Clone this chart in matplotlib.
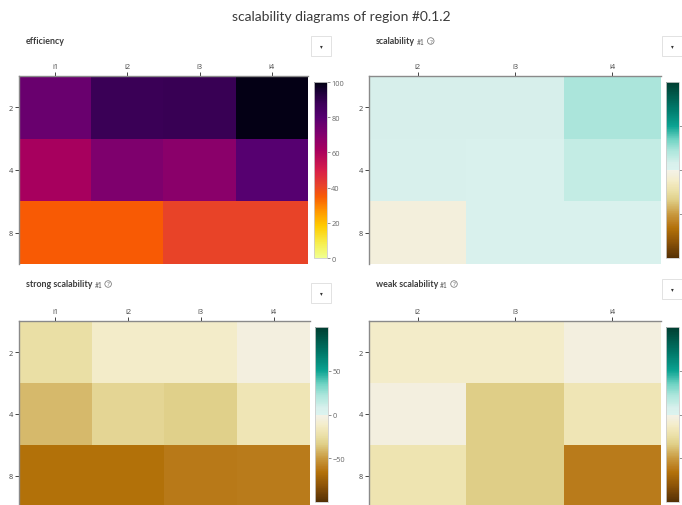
import numpy as np
import matplotlib
matplotlib.use("Agg")
import matplotlib.pyplot as plt
from matplotlib.colors import LinearSegmentedColormap, Normalize
from matplotlib.patches import Rectangle

plt.rcParams['font.family'] = ['Open Sans', 'DejaVu Sans']

title = "scalability diagrams of region #0.1.2"
rows = ["2", "4", "8"]
cols_all = ["i1", "i2", "i3", "i4"]
cols_scal = ["i2", "i3", "i4"]

efficiency = [[76, 88, 88.5, 99],
              [61, 71, 68, 80],
              [35, 35, 41, 41]]
scalability = [[8, 8, 22],
               [6, 5, 14],
               [-5, 5, 4]]
strong_scalability = [[-25, -12, -12, -4],
                      [-40, -30, -33, -18],
                      [-66, -66, -62, -61]]
weak_scalability = [[-12, -12, -4],
                     [-4, -34, -18],
                     [-20, -34, -61]]

W, H = 682, 506
TICK_COLOR = "#444444"
LINE_COLOR = "#8a8a8a"

eff_cmap = LinearSegmentedColormap.from_list("eff", [
    (0.00, "#f0ff90"), (0.08, "#f6ef50"), (0.18, "#ffcc00"),
    (0.27, "#ff9400"), (0.35, "#f85a05"), (0.41, "#e8432a"),
    (0.50, "#d71e4a"), (0.61, "#a8005e"), (0.68, "#8c006a"),
    (0.71, "#7e006e"), (0.76, "#6a006e"), (0.80, "#560070"),
    (0.88, "#3c0058"), (0.95, "#1a0035"), (1.00, "#000010")])

def frac(v):
    return (v + 100) / 200.0

div_cmap = LinearSegmentedColormap.from_list("div", [
    (frac(-100), "#543005"), (frac(-82), "#8c5308"), (frac(-66), "#b3720a"),
    (frac(-62), "#b97a1a"), (frac(-50), "#c99a40"), (frac(-34), "#e0cf88"),
    (frac(-25), "#eadfa5"), (frac(-18), "#f0e6b7"), (frac(-12), "#f4edca"),
    (frac(-4), "#f3f0e0"), (0.499, "#f5f2e6"), (0.501, "#dbf3ef"),
    (frac(8), "#d8f0ec"), (frac(14), "#c2ece4"), (frac(22), "#ade6dc"),
    (frac(35), "#6fd3c3"), (frac(50), "#0ca392"), (frac(70), "#00796a"),
    (frac(100), "#003d30")])


def px_axes(fig, x0, y0, x1, y1):
    return fig.add_axes([x0 / W, 1 - y1 / H, (x1 - x0) / W, (y1 - y0) / H])


def draw_panel(fig, values, cols, cmap, vmin, vmax, cbar_ticks, box, cbox):
    ax = px_axes(fig, *box)
    im = ax.imshow(np.array(values, dtype=float), cmap=cmap,
                   norm=Normalize(vmin, vmax), aspect="auto",
                   interpolation="nearest")
    ax.set_xticks(range(len(cols)))
    ax.set_xticklabels(cols)
    ax.set_yticks(range(len(rows)))
    ax.set_yticklabels(rows)
    ax.xaxis.tick_top()
    ax.tick_params(axis="both", labelsize=5.3, colors=TICK_COLOR,
                   length=3, width=0.7, pad=1.5)
    for side in ("right", "bottom"):
        ax.spines[side].set_visible(False)
    for side in ("top", "left"):
        ax.spines[side].set_color(LINE_COLOR)
        ax.spines[side].set_linewidth(1.0)

    cax = px_axes(fig, *cbox)
    cb = fig.colorbar(im, cax=cax, ticks=cbar_ticks)
    cb.outline.set_edgecolor("#cccccc")
    cb.outline.set_linewidth(0.6)
    cax.tick_params(labelsize=5.3, colors="#666666", length=2,
                    width=0.5, pad=1)
    return ax


def panel_title(fig, x, y, name, suffix=None):
    t = fig.text(x / W, 1 - y / H, name, fontsize=6.4, fontweight="bold",
                 color="#3d3d3d", family=["Lato", "DejaVu Sans"],
                 va="center", ha="left")
    if suffix is None:
        return
    fig.canvas.draw()
    bb = t.get_window_extent()
    s = fig.text((bb.x1 + 2) / W, 1 - (y + 0.5) / H, suffix, fontsize=4.8,
                 color="#555555", va="center", ha="left",
                 family=["Lato", "DejaVu Sans"])
    fig.canvas.draw()
    bb2 = s.get_window_extent()
    fig.text((bb2.x1 + 6) / W, 1 - y / H, "?", fontsize=4.6,
             color="#666666", va="center", ha="center",
             bbox=dict(boxstyle="circle,pad=0.12", fc="none",
                       ec="#777777", lw=0.55))


def dropdown(fig, x0, y0, x1, y1):
    fig.patches.append(Rectangle((x0 / W, 1 - y1 / H), (x1 - x0) / W,
                                 (y1 - y0) / H, transform=fig.transFigure,
                                 fc="white", ec="#dddddd", lw=0.6))
    fig.text((x0 + x1) / 2 / W, 1 - (y0 + y1) / 2 / H, "\u25be",
             fontsize=4, color="#333333", ha="center", va="center",
             family="DejaVu Sans")


fig = plt.figure(figsize=(W / 100, H / 100), dpi=100)

fig.text(0.5, 1 - 17 / H, title, ha="center", va="center", fontsize=10,
         color="#3a3a3a", family=["Lato", "DejaVu Sans"])

draw_panel(fig, efficiency, cols_all, eff_cmap, 0, 100,
           [0, 20, 40, 60, 80, 100], (19, 77, 308, 265), (314, 83, 327, 259))
draw_panel(fig, scalability, cols_scal, div_cmap, -100, 100,
           [-50, 0, 50], (369, 77, 661, 265), (666, 83, 679, 259))
draw_panel(fig, strong_scalability, cols_all, div_cmap, -100, 100,
           [-50, 0, 50], (19, 322, 310, 508), (315, 328, 328, 503))
draw_panel(fig, weak_scalability, cols_scal, div_cmap, -100, 100,
           [-50, 0, 50], (369, 322, 661, 508), (666, 328, 679, 503))

panel_title(fig, 26, 42, "efficiency")
panel_title(fig, 376, 42, "scalability", "#1")
panel_title(fig, 26, 285, "strong scalability", "#1")
panel_title(fig, 376, 285, "weak scalability", "#1")

dropdown(fig, 311, 37, 331, 57)
dropdown(fig, 662, 37, 682, 57)
dropdown(fig, 311, 284, 331, 304)
dropdown(fig, 662, 280, 682, 300)

fig.savefig("out.png", dpi=100)
